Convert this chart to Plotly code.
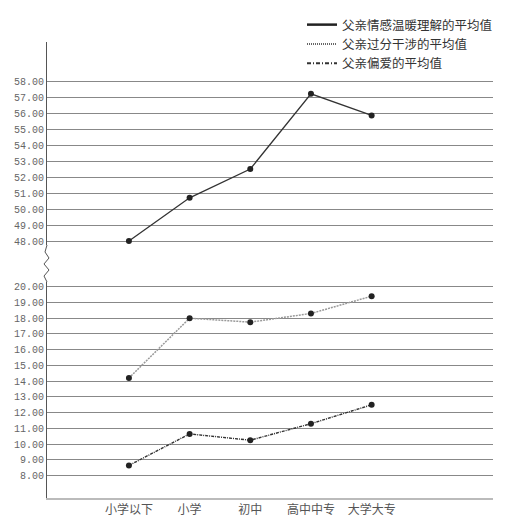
import plotly.graph_objects as go

# categories (education level of father)
categories = ["小学以下", "小学", "初中", "高中中专", "大学大专"]

# mean scores
warmth = [48.0, 50.7, 52.5, 57.2, 55.85]        # 父亲情感温暖理解的平均值
interfere = [14.2, 18.0, 17.75, 18.3, 19.4]     # 父亲过分干涉的平均值
favor = [8.65, 10.65, 10.25, 11.3, 12.5]        # 父亲偏爱的平均值

top_ticks = list(range(48, 59))
bottom_ticks = list(range(8, 21))

# page body has an 8px margin, so the figure is drawn 8px in from the corner
OFF = 8
W, H = 531 - OFF, 518 - OFF
L, R, T, B = 47 - OFF, 38, 42 - OFF, 20
pw, ph = W - L - R, H - T - B

def px_x(p):
    return (p - OFF - L) / pw

def px_y(p):
    return (H - B - (p - OFF)) / ph

cjk = "Noto Sans CJK SC"
num_font = dict(family="Liberation Mono", size=10, color="#666")
dot = dict(color="#222", size=6)

series = [
    ("父亲情感温暖理解的平均值", warmth, "y2",
     dict(color="#333", width=1.3), dict(color="#222", width=2.5)),
    ("父亲过分干涉的平均值", interfere, "y",
     dict(color="#999", width=1.5, dash="2px,1px"),
     dict(color="#666", width=2, dash="1px,1px")),
    ("父亲偏爱的平均值", favor, "y",
     dict(color="#333", width=1.4, dash="3px,1px,1px,1px"),
     dict(color="#333", width=2, dash="4px,2px,1px,2px")),
]

fig = go.Figure()
for name, vals, yax, line, leg_line in series:
    fig.add_trace(go.Scatter(
        x=categories, y=vals, name=name, mode="lines+markers", yaxis=yax,
        line=line, marker=dot, showlegend=False,
    ))
    # legend entry drawn as a plain line sample
    fig.add_trace(go.Scatter(
        x=[None], y=[None], name=name, mode="lines", yaxis=yax,
        line=leg_line, showlegend=True,
    ))

# zigzag break mark on the y axis
zz = [(47, 245), (45, 252), (49, 258), (44, 264), (49, 270), (44, 276), (47, 282)]
path = "M " + " L ".join(f"{px_x(a):.4f},{px_y(b):.4f}" for a, b in zz)

fig.update_layout(
    width=W, height=H,
    margin=dict(l=L, r=R, t=T, b=B, autoexpand=False),
    paper_bgcolor="white", plot_bgcolor="white",
    showlegend=True,
    legend=dict(x=px_x(302), y=px_y(10), xanchor="left", yanchor="top",
                font=dict(family=cjk, size=12.5, color="#333"),
                bgcolor="rgba(0,0,0,0)", tracegroupgap=0,
                itemwidth=30, traceorder="normal"),
    xaxis=dict(type="category", range=[-1.35, 6.0], showgrid=False,
               showline=True, linecolor="#bbb", linewidth=1.5,
               ticks="", tickfont=dict(family=cjk, size=12, color="#555"),
               zeroline=False, anchor="y"),
    yaxis=dict(domain=[0, px_y(282)], range=[6.58, 20.3],
               tickvals=bottom_ticks, tickformat=".2f",
               tickfont=num_font, showgrid=True, gridcolor="#888",
               gridwidth=1, showline=True, linecolor="#555", linewidth=1,
               zeroline=False, ticks="", anchor="x"),
    yaxis2=dict(domain=[px_y(245), 1], range=[47.75, 60.44],
                tickvals=top_ticks, tickformat=".2f",
                tickfont=num_font, showgrid=True, gridcolor="#888",
                gridwidth=1, showline=True, linecolor="#555", linewidth=1,
                zeroline=False, ticks="", anchor="x"),
    shapes=[dict(type="path", path=path, xref="paper", yref="paper",
                 line=dict(color="#555", width=1))],
)

fig.write_html("out.html")
